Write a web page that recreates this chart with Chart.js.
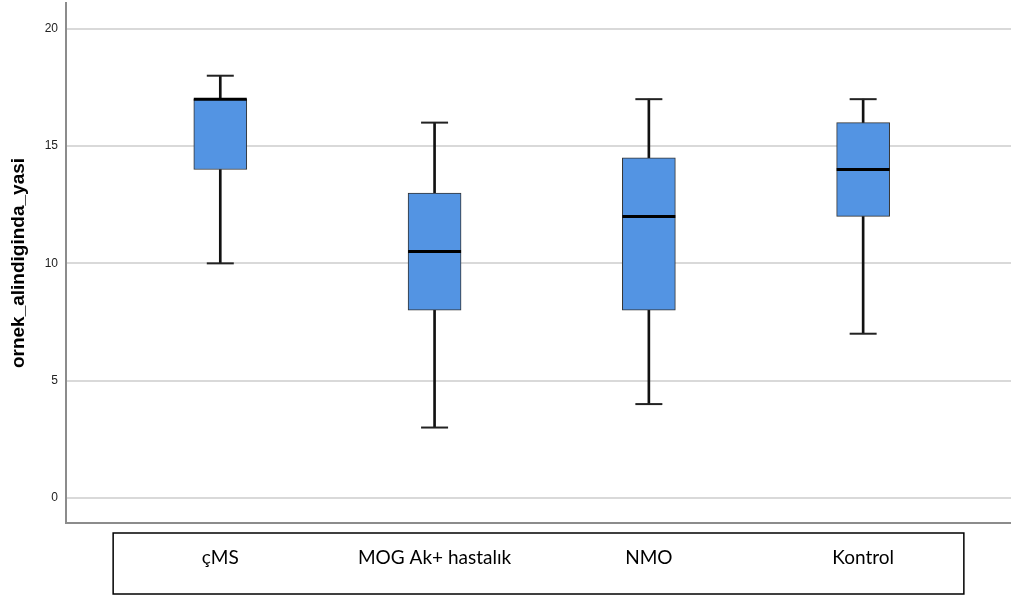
<!DOCTYPE html>
<html>
<head>
<meta charset="utf-8">
<script src="https://cdn.jsdelivr.net/npm/chart.js@4"></script>
<style>
  html, body { margin: 0; padding: 0; background: #fff; }
</style>
</head>
<body>
<canvas id="chart" width="1011" height="598"></canvas>
<script>
const categories = ['çMS', 'MOG Ak+ hastalık', 'NMO', 'Kontrol'];
const whiskerLow = [10, 3, 4, 7];
const q1 = [14, 8, 8, 12];
const median = [17, 10.5, 12, 14];
const q3 = [17, 13, 14.5, 16];
const whiskerHigh = [18, 16, 17, 17];
const yTicks = [0, 5, 10, 15, 20];

const boxData = categories.map((c, i) => ({ x: i, y: [q1[i], q3[i]] }));
const lowStem = categories.map((c, i) => ({ x: i, y: [whiskerLow[i], q1[i]] }));
const highStem = categories.map((c, i) => ({ x: i, y: [q3[i], whiskerHigh[i]] }));
const lowCap = categories.map((c, i) => ({ x: i, y: whiskerLow[i] }));
const highCap = categories.map((c, i) => ({ x: i, y: whiskerHigh[i] }));
const medianPts = categories.map((c, i) => ({ x: i, y: median[i] }));

// frame around the category labels, spanning the category bands
const labelFrame = {
  id: 'labelFrame',
  afterDraw(chart) {
    const x = chart.scales.x;
    const ctx = chart.ctx;
    const left = x.getPixelForValue(-0.5);
    const right = x.getPixelForValue(3.47);
    ctx.save();
    ctx.strokeStyle = '#000';
    ctx.lineWidth = 1.5;
    ctx.strokeRect(left, 533, right - left, 61);
    ctx.restore();
  }
};

const stem = { type: 'bar', backgroundColor: '#111', borderWidth: 0, barThickness: 2, grouped: false };
const capLine = { type: 'scatter', pointStyle: 'line', borderColor: '#222', backgroundColor: '#222' };

new Chart(document.getElementById('chart'), {
  type: 'bar',
  data: {
    datasets: [
      Object.assign({ data: lowStem, order: 5 }, stem),
      Object.assign({ data: highStem, order: 5 }, stem),
      {
        type: 'bar', data: boxData, order: 3, grouped: false,
        backgroundColor: '#5394e3', borderColor: '#333', borderWidth: 1,
        borderSkipped: false, barThickness: 53
      },
      Object.assign({ data: lowCap, order: 4, pointRadius: 13.5, borderWidth: 2 }, capLine),
      Object.assign({ data: highCap, order: 4, pointRadius: 13.5, borderWidth: 2 }, capLine),
      Object.assign({ data: medianPts, order: 1, pointRadius: 26.5, borderWidth: 3 },
        capLine, { borderColor: '#000' })
    ]
  },
  options: {
    responsive: false,
    animation: false,
    layout: { autoPadding: false, padding: { top: 3, right: 0, left: 0, bottom: 0 } },
    plugins: { legend: { display: false }, tooltip: { enabled: false } },
    scales: {
      x: {
        type: 'linear',
        offset: false,
        min: -0.72,
        max: 3.69,
        afterBuildTicks: s => { s.ticks = categories.map((c, i) => ({ value: i })); },
        afterFit: s => { s.height = 75; s.paddingLeft = 0; s.paddingRight = 0; },
        grid: { display: false, drawTicks: false },
        border: { display: true, color: '#8c8c8c', width: 2 },
        ticks: {
          padding: 23,
          color: '#000',
          font: { family: 'Lato', size: 19 },
          maxRotation: 0,
          autoSkip: false,
          callback: v => categories[v]
        }
      },
      y: {
        min: -1.07,
        max: 21.1,
        afterBuildTicks: s => { s.ticks = yTicks.map(v => ({ value: v })); },
        afterFit: s => { s.width = 66; s.paddingTop = 0; s.paddingBottom = 0; },
        grid: { color: '#d9d9d9', lineWidth: 2, drawTicks: false },
        border: { display: true, color: '#8c8c8c', width: 2 },
        ticks: {
          padding: 8,
          color: '#222',
          font: { family: 'Liberation Sans', size: 12 }
        },
        title: {
          display: true,
          text: 'ornek_alindiginda_yasi',
          color: '#000',
          font: { family: 'Liberation Sans', size: 19, weight: 'bold' },
          padding: { top: 7, bottom: 0 }
        }
      }
    }
  },
  plugins: [labelFrame]
});
</script>
</body>
</html>
